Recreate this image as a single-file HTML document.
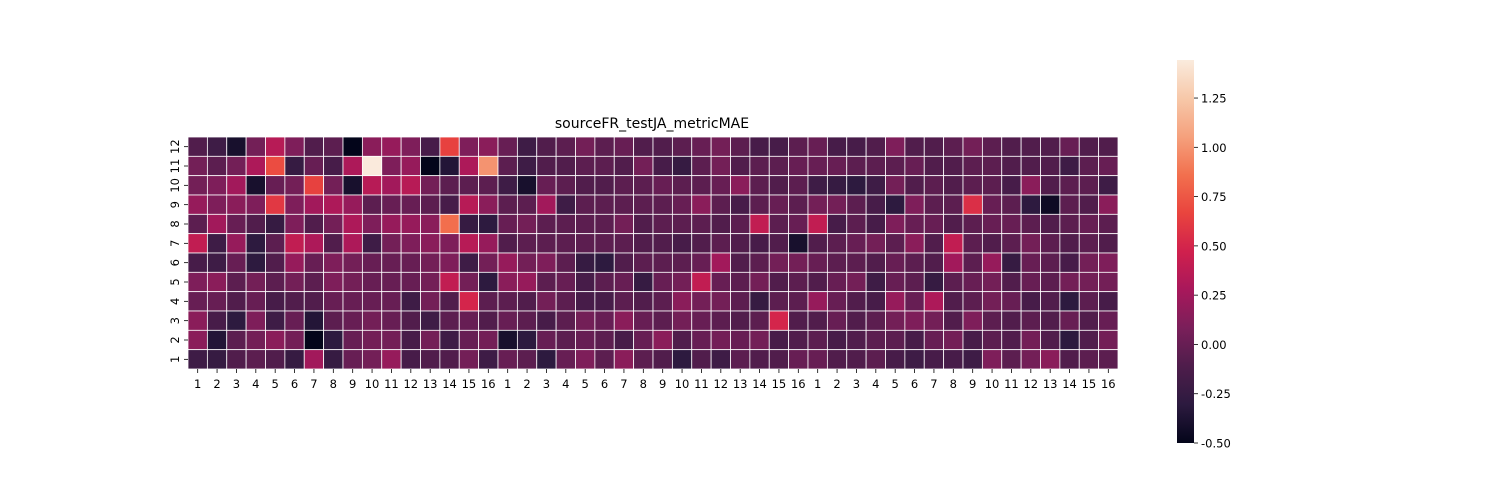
<!DOCTYPE html>
<html><head><meta charset="utf-8"><style>
html,body{margin:0;padding:0;background:#fff;}
svg{display:block;font-family:"DejaVu Sans","Liberation Sans",sans-serif;}
</style></head><body>
<svg id="chart" width="1500" height="500">
<defs><linearGradient id="cbg" x1="0" y1="1" x2="0" y2="0">
<stop offset="0" stop-color="#03051a"/><stop offset="0.1" stop-color="#2c1a3f"/><stop offset="0.2" stop-color="#4e1d4b"/><stop offset="0.3" stop-color="#7a1f5a"/><stop offset="0.4" stop-color="#a8185b"/><stop offset="0.5" stop-color="#d0204d"/><stop offset="0.6" stop-color="#e9443e"/><stop offset="0.7" stop-color="#f2704e"/><stop offset="0.8" stop-color="#f5a17d"/><stop offset="0.9" stop-color="#f7c8a9"/><stop offset="1" stop-color="#faebdd"/>
</linearGradient></defs>
<text x="652" y="128" text-anchor="middle" font-size="14">sourceFR_testJA_metricMAE</text>
<g id="cells"></g>
<g id="xt"></g>
<g id="yt"></g>
<rect x="1177" y="60" width="17" height="383" fill="url(#cbg)"/>
<g id="cbt"></g>
</svg>
<script>
const xLabels = [];
for (let k=0;k<3;k++) for (let i=1;i<=16;i++) xLabels.push(String(i));
const yLabels = ["12","11","10","9","8","7","6","5","4","3","2","1"];
const colorbarTicks = [-0.5,-0.25,0,0.25,0.5,0.75,1.0,1.25];
const vMin = -0.5, vMax = 1.443;
const row12 = [-0.1,-0.2,-0.4,0.05,0.35,0.1,-0.1,-0.05,-0.5,0.15,0.2,0.1,-0.15,0.65,0.1,0.15, 0,-0.2,-0.1,-0.05,0.05,-0.05,0,-0.1,-0.1,-0.05,0,0.05,-0.05,-0.15,-0.15,-0.05, 0,-0.15,-0.15,-0.1,0.1,-0.1,-0.1,-0.05,0.05,-0.05,-0.1,-0.1,-0.1,0,-0.1,-0.1];
const row11 = [0.05,-0.05,0.05,0.3,0.7,-0.25,0,-0.15,0.3,1.44,0.1,0.2,-0.5,-0.35,0.3,1.0, -0.05,-0.2,-0.1,-0.1,-0.05,-0.05,-0.1,0.05,-0.15,-0.25,-0.05,0.05,-0.1,-0.05,-0.05,0, 0,0,-0.05,-0.05,-0.05,0,-0.1,-0.1,-0.05,-0.05,-0.1,-0.1,-0.1,-0.2,-0.05,0];
const row10 = [0.05,0.1,0.25,-0.4,0,0.05,0.65,0.05,-0.4,0.35,0.25,0.35,0.05,-0.05,-0.05,-0.05, -0.2,-0.4,0,-0.05,-0.1,-0.1,-0.05,-0.05,0,-0.05,-0.05,0,0.15,-0.05,-0.1,-0.05, -0.2,-0.25,-0.3,-0.2,0.05,-0.1,-0.05,-0.1,-0.05,-0.05,-0.15,0.15,-0.1,-0.05,-0.05,-0.2];
const row9 = [0.2,0.1,0.15,0.1,0.6,0.1,0.25,0.3,0.2,-0.05,0,0,-0.05,-0.15,0.35,0.15, -0.05,-0.05,0.25,-0.2,-0.05,-0.05,-0.05,-0.05,-0.05,0,0.15,-0.05,-0.15,-0.05,0,-0.05, 0.05,0.05,-0.05,-0.15,-0.3,0.1,-0.05,-0.05,0.55,0,-0.05,-0.3,-0.45,-0.05,-0.1,0.15];
const row8 = [-0.05,0.25,0,-0.1,-0.25,0.1,-0.1,0.05,0.3,0.1,0.2,0.2,0.15,0.85,-0.25,-0.3, 0,0.05,-0.05,-0.05,-0.05,-0.05,0.05,-0.1,-0.05,-0.05,-0.05,-0.1,-0.05,0.4,-0.05,0, 0.4,-0.15,-0.05,-0.15,0.1,0,0,-0.1,-0.05,0,0,-0.05,-0.1,-0.05,0,-0.05];
const row7 = [0.4,-0.2,0.2,-0.3,-0.05,0.4,0.3,-0.1,0.3,-0.2,0.05,0.1,0.15,0.1,0.35,0.2, -0.1,-0.05,-0.05,-0.05,-0.05,-0.05,-0.05,-0.1,-0.1,-0.15,-0.1,-0.05,-0.1,-0.15,-0.1,-0.4, -0.1,-0.05,0,0.05,-0.05,0.15,-0.1,0.4,-0.05,-0.1,-0.05,0.05,-0.05,-0.1,-0.05,-0.1];
const row6 = [-0.15,-0.2,0,-0.3,-0.1,0.2,0,0.1,0.05,0,0,0,0.05,0.1,-0.2,0.05, 0.2,0.05,0.1,-0.05,-0.25,-0.3,-0.1,-0.05,-0.05,-0.05,0,0.25,-0.1,-0.05,0.05,0.05, 0,-0.05,-0.05,-0.1,0,-0.05,-0.1,0.25,-0.05,0.2,-0.25,0,-0.05,-0.15,0.05,0.1];
const row5 = [0.1,0.15,-0.05,0.05,-0.05,0.05,-0.05,0.1,0.05,0,0,0,0.05,0.4,0.05,-0.3, 0.15,0.2,-0.05,0,-0.15,-0.05,0,-0.25,0,0.05,0.4,0,-0.05,0.05,-0.1,-0.05, -0.1,0,0.05,-0.2,0,-0.05,-0.25,-0.05,0,0.05,-0.1,0,-0.05,0.05,0.05,0.05];
const row4 = [0,0,-0.1,0,-0.15,-0.1,-0.1,0,0,0,0,-0.2,0.05,-0.1,0.5,-0.05, -0.05,-0.1,0.05,-0.05,-0.15,-0.15,-0.05,-0.1,-0.05,0.15,0.05,0.05,-0.05,-0.25,-0.05,-0.05, 0.2,0,-0.1,-0.15,0.2,0,0.3,-0.1,-0.05,0.05,0,-0.15,-0.1,-0.3,-0.05,-0.15];
const row3 = [0.15,-0.15,-0.3,0.1,-0.2,0,-0.35,-0.05,0,0.05,0,-0.1,-0.2,-0.05,0,-0.1, 0,-0.05,-0.15,-0.05,0.05,0,0.15,0,-0.05,0.05,0,-0.05,-0.1,-0.05,0.5,-0.1, -0.1,0,-0.1,-0.05,0.05,0.1,0.05,-0.1,0.1,-0.05,-0.1,-0.05,-0.1,0,-0.1,0];
const row2 = [0.15,-0.35,-0.05,0.05,0.15,0.05,-0.5,-0.3,0,0.05,0.05,-0.15,0.05,-0.2,0,0.05, -0.4,-0.3,0,-0.05,0,-0.05,-0.15,0,0.15,-0.1,0,0.05,0,0.05,-0.15,-0.1, -0.05,-0.15,-0.1,-0.05,-0.05,-0.15,0,0.05,-0.15,-0.05,-0.1,0.05,-0.1,-0.3,-0.1,0.05];
const row1 = [-0.2,-0.25,-0.1,-0.05,-0.1,-0.25,0.25,-0.25,0,0.05,0.2,-0.15,-0.1,-0.1,0.05,-0.2, 0,-0.05,-0.3,0,0.1,-0.05,0.15,-0.05,-0.1,-0.3,-0.1,-0.2,-0.05,-0.1,-0.1,0, 0,-0.1,-0.1,-0.05,-0.15,-0.2,-0.15,-0.15,-0.2,0.1,-0.05,0.05,0.15,-0.1,-0.05,-0.05];
const rows = [row12,row11,row10,row9,row8,row7,row6,row5,row4,row3,row2,row1];

const NS="http://www.w3.org/2000/svg";
const X0=188, X1=1118, Y0=137, Y1=369;
const cw=(X1-X0)/xLabels.length, ch=(Y1-Y0)/yLabels.length;
const xPos=i=>X0+i*cw, yPos=j=>Y0+j*ch;
const stops=[[3,5,26],[44,26,63],[78,29,75],[122,31,90],[168,24,91],[208,32,77],[233,68,62],[242,112,78],[245,161,125],[247,200,169],[250,235,221]];
function color(v){let t=(v-vMin)/(vMax-vMin);t=Math.max(0,Math.min(1,t))*10;const i=Math.min(9,Math.floor(t)),f=t-i;const a=stops[i],b=stops[i+1];return `rgb(${a.map((c,k)=>Math.round(c+(b[k]-c)*f)).join(',')})`;}
function el(tag,attrs,parent){const e=document.createElementNS(NS,tag);for(const k in attrs)e.setAttribute(k,attrs[k]);parent.appendChild(e);return e;}
const cells=document.getElementById('cells');
rows.forEach((r,j)=>r.forEach((v,i)=>{
  const c=el('rect',{x:xPos(i),y:yPos(j),width:cw,height:ch,fill:color(v),stroke:'#fff','stroke-width':0.8},cells);
  
  
}));
const xt=document.getElementById('xt');
xLabels.forEach((l,i)=>{
  const cx=xPos(i)+cw/2;
  el('line',{x1:cx,x2:cx,y1:Y1,y2:Y1+4,stroke:'#000','stroke-width':0.8},xt);
  const t=el('text',{x:cx,y:Y1+19,'text-anchor':'middle','font-size':11.5},xt);
  t.textContent=l;
  
  
});
const yt=document.getElementById('yt');
yLabels.forEach((l,j)=>{
  const cy=yPos(j)+ch/2;
  el('line',{x1:X0-4,x2:X0,y1:cy,y2:cy,stroke:'#000','stroke-width':0.8},yt);
  const t=el('text',{x:X0-9,y:cy,'text-anchor':'middle','font-size':11.5,transform:`rotate(-90 ${X0-9} ${cy})`},yt);
  t.textContent=l;
  
  
});
const cbt=document.getElementById('cbt');
colorbarTicks.forEach(v=>{
  const y=443-(v-vMin)/(vMax-vMin)*383;
  el('line',{x1:1194,x2:1198,y1:y,y2:y,stroke:'#000','stroke-width':0.8},cbt);
  const t=el('text',{x:1201,y:y+4.5,'font-size':11.5},cbt);
  t.textContent=v.toFixed(2);
  
  
});
</script>
</body></html>
